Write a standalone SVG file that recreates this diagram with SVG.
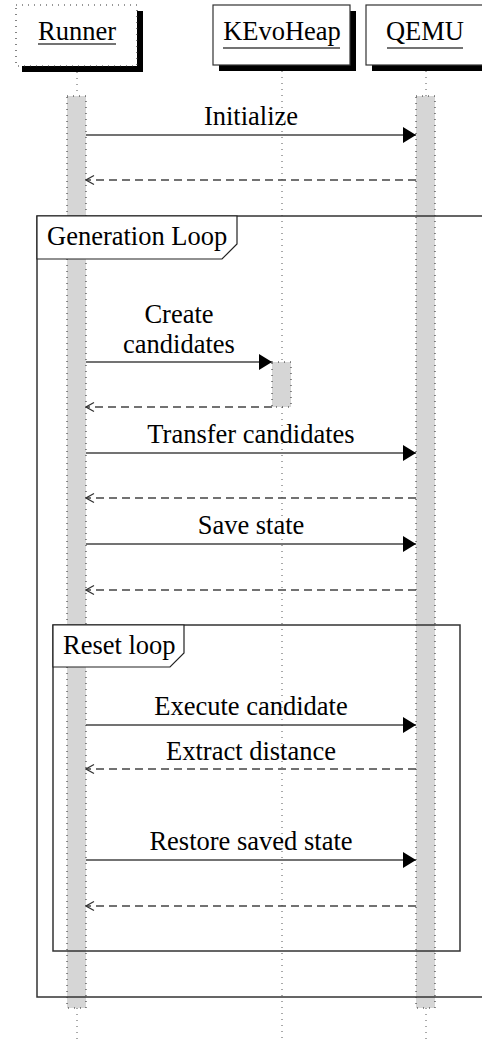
<svg xmlns="http://www.w3.org/2000/svg" width="482" height="1041" viewBox="0 0 482 1041">
<style>
text { font-family: "Liberation Serif", "Times New Roman", serif; font-size: 26.5px; fill: #000; }
.lbl { text-anchor: middle; }
.shadow { fill: #000; }
.head { fill: #fff; stroke: #333; stroke-width: 1.2; }
.headdot { fill: #fff; stroke: #333; stroke-width: 1.2; stroke-dasharray: 1,5; }
.ul { stroke: #444; stroke-width: 1.5; }
.life { stroke: #555; stroke-width: 1; stroke-dasharray: 1,5; fill: none; }
.bar { fill: #d6d6d6; stroke: #222; stroke-width: 1; stroke-dasharray: 1,5; }
.frame { fill: none; stroke: #333; stroke-width: 1.5; }
.tab { fill: #fff; stroke: #222; stroke-width: 1.2; }
.msg { stroke: #444; stroke-width: 1.5; fill: none; }
.ret { stroke: #444; stroke-width: 1.5; fill: none; stroke-dasharray: 8,5; }
</style>
<defs>
<marker id="solid" markerUnits="userSpaceOnUse" markerWidth="14" markerHeight="16" refX="13" refY="8" orient="auto">
<path d="M0,0 L13,8 L0,16 z" fill="#000"/>
</marker>
<marker id="open" markerUnits="userSpaceOnUse" markerWidth="10" markerHeight="12" refX="9" refY="5.5" orient="auto">
<path d="M1,1 L9,5.5 L1,10" fill="none" stroke="#333" stroke-width="1.2"/>
</marker>
</defs>

<g id="runner">
<rect class="shadow" x="22" y="11" width="121" height="61"/>
<rect class="headdot" x="16" y="5" width="121" height="61"/>
<text class="lbl" x="77" y="40">Runner</text>
<line class="ul" x1="38" y1="44" x2="116" y2="44"/>
<line class="life" x1="77" y1="72" x2="77" y2="96"/>
<line class="life" x1="77" y1="1008" x2="77" y2="1041"/>
<rect class="bar" x="67" y="96" width="19" height="912"/>
</g>

<g id="kevoheap">
<rect class="shadow" x="219" y="11" width="137" height="60"/>
<rect class="head" x="213" y="5" width="137" height="60"/>
<text class="lbl" x="282" y="40">KEvoHeap</text>
<line class="ul" x1="223" y1="48" x2="340" y2="48"/>
<line class="life" x1="282" y1="71" x2="282" y2="362"/>
<line class="life" x1="282" y1="407" x2="282" y2="1041"/>
<rect class="bar" x="272" y="362" width="19" height="45"/>
</g>

<g id="qemu">
<rect class="shadow" x="372" y="11" width="130" height="60"/>
<rect class="head" x="366" y="5" width="130" height="60"/>
<text class="lbl" x="425" y="40">QEMU</text>
<line class="ul" x1="387" y1="48" x2="463" y2="48"/>
<line class="life" x1="426" y1="71" x2="426" y2="96"/>
<line class="life" x1="426" y1="1008" x2="426" y2="1041"/>
<rect class="bar" x="416" y="96" width="19" height="912"/>
</g>

<g id="generation-loop">
<rect class="frame" x="37" y="216" width="460" height="781"/>
<path class="tab" d="M37,216 H237 V244 L222,259 H37 Z"/>
<text x="47" y="245">Generation Loop</text>
</g>

<g id="reset-loop">
<rect class="frame" x="53" y="625" width="407" height="326"/>
<path class="tab" d="M53,625 H184 V653 L170,667 H53 Z"/>
<text x="63" y="654">Reset loop</text>
</g>

<g id="connectors">
<line class="msg" x1="86" y1="135" x2="416" y2="135" marker-end="url(#solid)"/>
<text class="lbl" x="251" y="125">Initialize</text>
<line class="ret" x1="416" y1="180" x2="86" y2="180" marker-end="url(#open)"/>

<line class="msg" x1="86" y1="362" x2="272" y2="362" marker-end="url(#solid)"/>
<text class="lbl" x="179" y="323">Create</text>
<text class="lbl" x="179" y="353">candidates</text>
<line class="ret" x1="272" y1="407" x2="86" y2="407" marker-end="url(#open)"/>

<line class="msg" x1="86" y1="453" x2="416" y2="453" marker-end="url(#solid)"/>
<text class="lbl" x="251" y="443">Transfer candidates</text>
<line class="ret" x1="416" y1="498" x2="86" y2="498" marker-end="url(#open)"/>

<line class="msg" x1="86" y1="544" x2="416" y2="544" marker-end="url(#solid)"/>
<text class="lbl" x="251" y="534">Save state</text>
<line class="ret" x1="416" y1="590" x2="86" y2="590" marker-end="url(#open)"/>

<line class="msg" x1="86" y1="725" x2="416" y2="725" marker-end="url(#solid)"/>
<text class="lbl" x="251" y="715">Execute candidate</text>
<line class="ret" x1="416" y1="769" x2="86" y2="769" marker-end="url(#open)"/>
<text class="lbl" x="251" y="760">Extract distance</text>

<line class="msg" x1="86" y1="860" x2="416" y2="860" marker-end="url(#solid)"/>
<text class="lbl" x="251" y="850">Restore saved state</text>
<line class="ret" x1="416" y1="906" x2="86" y2="906" marker-end="url(#open)"/>
</g>
</svg>
